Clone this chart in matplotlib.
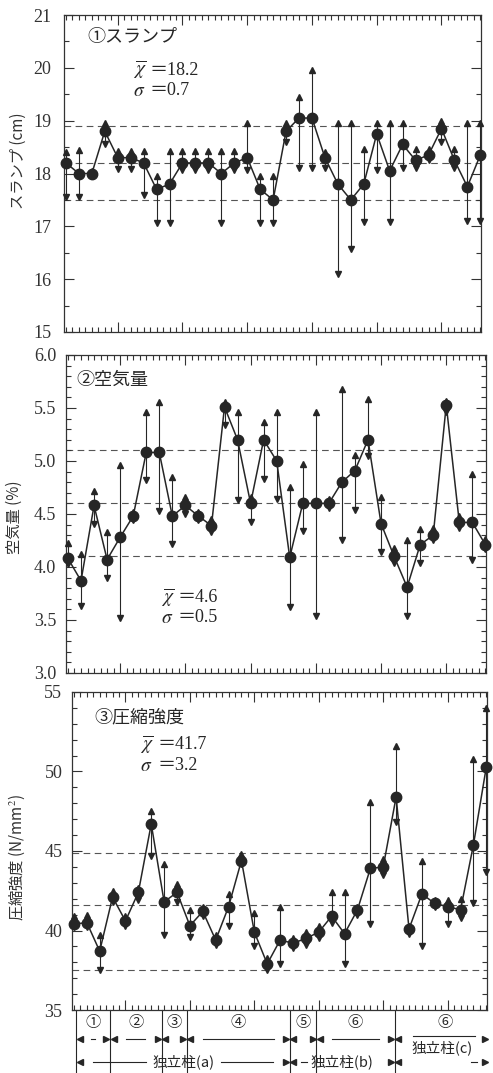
import numpy as np
import matplotlib.pyplot as plt
from matplotlib.ticker import MultipleLocator
from matplotlib.transforms import blended_transform_factory

plt.rcParams['mathtext.fontset'] = 'stix'

# 33 sampled trucks / columns
pos = np.arange(1, 34)

slump_mean = [18.2, 18.0, 18.0, 18.8, 18.3, 18.3, 18.2, 17.7, 17.8, 18.2, 18.2,
              18.2, 18.0, 18.2, 18.3, 17.7, 17.5, 18.8, 19.05, 19.05, 18.3, 17.8,
              17.5, 17.8, 18.75, 18.05, 18.55, 18.25, 18.35, 18.85, 18.25, 17.75, 18.35]
slump_max = [18.4, 18.45, 18.05, 18.95, 18.43, 18.43, 18.43, 17.95, 18.43, 18.43, 18.43,
             18.43, 18.43, 18.43, 18.95, 17.95, 17.95, 18.96, 19.44, 19.96, 18.4, 18.96,
             18.96, 18.47, 18.96, 18.96, 18.96, 18.47, 18.47, 19.0, 18.47, 18.96, 18.96]
slump_min = [17.55, 17.55, 17.95, 18.55, 18.08, 18.08, 17.6, 17.06, 17.06, 18.07, 18.07,
             18.07, 17.06, 18.07, 18.07, 17.06, 17.06, 18.6, 18.1, 18.1, 18.1, 16.1,
             16.58, 17.08, 18.07, 17.08, 18.1, 18.1, 18.25, 18.6, 18.1, 17.1, 17.1]
slump_band = [17.5, 18.2, 18.9]

air_mean = [4.08, 3.87, 4.58, 4.07, 4.28, 4.48, 5.08, 5.08, 4.48, 4.58, 4.48,
            4.39, 5.51, 5.2, 4.6, 5.2, 5.0, 4.09, 4.6, 4.6, 4.6, 4.8,
            4.91, 5.2, 4.41, 4.1, 3.81, 4.21, 4.3, 5.53, 4.42, 4.42, 4.21]
air_max = [4.23, 4.12, 4.72, 4.33, 4.96, 4.52, 5.46, 5.56, 4.85, 4.66, 4.52,
           4.45, 5.56, 5.46, 4.66, 5.37, 5.46, 4.75, 4.97, 5.46, 4.64, 5.68,
           5.06, 5.58, 4.66, 4.18, 4.25, 4.36, 4.37, 5.57, 4.48, 4.88, 4.26]
air_min = [4.03, 3.63, 4.41, 3.9, 3.52, 4.44, 4.82, 4.53, 4.22, 4.5, 4.44,
           4.33, 5.34, 4.63, 4.42, 4.83, 4.64, 3.62, 4.34, 3.54, 4.56, 4.25,
           4.54, 5.05, 4.14, 4.04, 3.54, 4.04, 4.25, 5.46, 4.37, 4.07, 4.17]
air_band = [4.1, 4.6, 5.1]

strength_mean = [40.4, 40.5, 38.7, 42.1, 40.6, 42.4, 46.7, 41.8, 42.4, 40.3, 41.2,
                 39.4, 41.5, 44.4, 39.9, 37.9, 39.4, 39.2, 39.5, 39.9, 40.9, 39.8,
                 41.3, 43.9, 44.0, 48.4, 40.1, 42.3, 41.7, 41.5, 41.3, 45.4, 50.3]
strength_max = [40.9, 41.0, 39.7, 42.5, 40.9, 42.7, 47.5, 44.2, 42.9, 41.3, 41.5,
                39.7, 42.3, 44.8, 41.1, 38.3, 41.5, 39.5, 39.9, 40.3, 42.4, 42.4,
                41.5, 48.1, 44.5, 51.6, 40.3, 44.4, 41.9, 41.9, 42.0, 50.8, 54.0]
strength_min = [40.2, 40.2, 37.5, 41.8, 40.3, 41.9, 44.7, 39.7, 41.8, 39.6, 40.9,
                39.1, 40.3, 44.2, 39.0, 37.5, 37.9, 38.9, 39.1, 39.5, 40.5, 37.9,
                41.0, 40.4, 43.5, 46.8, 39.8, 39.0, 41.5, 40.4, 40.8, 41.7, 43.7]
strength_band = [37.5, 41.6, 44.9]

# column groups under the bottom panel
group_names = ['①', '②', '③', '④', '⑤', '⑥', '⑥']
group_edges = [1.2, 3.8, 7.8, 9.75, 17.75, 19.8, 25.9, 33.2]
column_names = ['独立柱(a)', '独立柱(b)', '独立柱(c)']
column_edges = [1.2, 17.75, 25.9, 33.2]

serif = ['Liberation Serif', 'Noto Sans CJK JP']
cjk = ['Noto Sans CJK JP', 'DejaVu Sans']
ink = '#262626'

fig = plt.figure(figsize=(4.93, 10.73), dpi=100)
ax1 = fig.add_axes([0.1298, 0.6906, 0.8458, 0.2954])
ax2 = fig.add_axes([0.1339, 0.3728, 0.852, 0.2964])
ax3 = fig.add_axes([0.146, 0.0587, 0.8418, 0.2964])


def panel(ax, mean, hi, lo, band, ylim, major, minor, title, xbar, sig,
          ylabel, tpos, spos, lpos, pad):
    ax.set_xlim(0.85, 33.05)
    ax.set_ylim(*ylim)
    for b in band:
        ax.axhline(b, color='#555555', lw=0.8, dashes=(6, 4), zorder=1)
    ax.vlines(pos, lo, hi, color=ink, lw=0.8, zorder=2)
    ax.plot(pos, hi, '^', ms=4.5, color=ink, clip_on=False, zorder=3)
    ax.plot(pos, lo, 'v', ms=4.5, color=ink, clip_on=False, zorder=3)
    ax.plot(pos, mean, '-o', ms=7.5, lw=1.1, color=ink, clip_on=False, zorder=5)

    ax.xaxis.set_major_locator(MultipleLocator(5))
    ax.xaxis.set_minor_locator(MultipleLocator(0.5))
    ax.yaxis.set_major_locator(MultipleLocator(major))
    ax.yaxis.set_minor_locator(MultipleLocator(minor))
    ax.tick_params(which='both', direction='in', top=True, right=True,
                   labelbottom=False, color='#333333')
    ax.tick_params(which='major', length=7, width=0.8, labelsize=13, pad=pad)
    ax.tick_params(which='minor', length=3.5, width=0.8)
    for t in ax.get_yticklabels():
        t.set_family(serif)
        t.set_color('#333333')
    for s in ax.spines.values():
        s.set_linewidth(0.9)
        s.set_color('#333333')

    ax.set_ylabel(ylabel, family=cjk, fontsize=11, color='#333333')
    ax.yaxis.set_label_coords(*lpos)

    ax.text(tpos[0], tpos[1], title, transform=ax.transAxes, family=cjk,
            fontsize=13, color=ink, va='center')
    ax.text(spos[0], spos[1], r'$\overline{\chi}$', transform=ax.transAxes,
            fontsize=14, color=ink, va='center')
    ax.annotate('＝' + xbar, xy=spos, xycoords='axes fraction',
                xytext=(12, 0), textcoords='offset points', family=serif,
                fontsize=13, color=ink, va='center')
    ax.text(spos[0], spos[1] - 0.064, r'$\sigma$', transform=ax.transAxes,
            fontsize=14, color=ink, va='center')
    ax.annotate('＝' + sig, xy=(spos[0], spos[1] - 0.064), xycoords='axes fraction',
                xytext=(12, 0), textcoords='offset points', family=serif,
                fontsize=13, color=ink, va='center')


panel(ax1, slump_mean, slump_max, slump_min, slump_band, (15, 21), 1, 0.5,
      '①スランプ', '18.2', '0.7', 'スランプ (cm)',
      (0.055, 0.93), (0.165, 0.826), (-0.089, 0.54), 9)
panel(ax2, air_mean, air_max, air_min, air_band, (3.0, 6.0), 0.5, 0.1,
      '②空気量', '4.6', '0.5', '空気量 (%)',
      (0.025, 0.921), (0.225, 0.237), (-0.102, 0.49), 7)
ax2.yaxis.set_major_formatter(plt.FormatStrFormatter('%.1f'))
panel(ax3, strength_mean, strength_max, strength_min, strength_band, (35, 55), 5, 1,
      '③圧縮強度', '41.7', '3.2', '圧縮強度 (N/mm$^2$)',
      (0.055, 0.92), (0.165, 0.834), (-0.108, 0.48), 7)

# group annotation below the bottom panel
tr = blended_transform_factory(ax3.transData, ax3.transAxes)
lk = dict(transform=tr, clip_on=False, color=ink, lw=0.8)
for e in group_edges[:-1]:
    ax3.plot([e, e], [0, -0.2], **lk)


def heads(a, b, y):
    ax3.plot([a + 0.28], [y], '<', ms=5, color=ink, transform=tr, clip_on=False)
    ax3.plot([b - 0.28], [y], '>', ms=5, color=ink, transform=tr, clip_on=False)


for i, name in enumerate(group_names):
    a, b = group_edges[i], group_edges[i + 1]
    c = (a + b) / 2
    if i == 6:
        c = 29.8
        ax3.plot([27.3, 32.1], [-0.083, -0.083], **lk)
    ax3.text(c, -0.04, name, transform=tr, ha='center', va='center',
             family=cjk, fontsize=11, color=ink)
    heads(a, b, -0.092)
    half = (b - a) / 2 - 1.25
    if 0 < half < 0.15:
        half = 0.15
    if half > 0 and i < 6:
        ax3.plot([c - half, c + half], [-0.092, -0.092], **lk)

ycol = [-0.163, -0.163, -0.118]
for i, name in enumerate(column_names):
    a, b = column_edges[i], column_edges[i + 1]
    c = (a + b) / 2
    heads(a, b, -0.163)
    if i == 0:
        ax3.plot([a + 1.3, c - 2.9], [-0.163, -0.163], **lk)
        ax3.plot([c + 2.9, b - 1.3], [-0.163, -0.163], **lk)
    elif i == 1:
        ax3.plot([a + 0.9, a + 1.3], [-0.163, -0.163], **lk)
    else:
        c = 29.6
        ax3.plot([b - 1.4, b - 0.9], [-0.163, -0.163], **lk)
    ax3.text(c, ycol[i], name, transform=tr, ha='center', va='center',
             family=cjk, fontsize=10.5, color=ink)

plt.savefig('out.png', dpi=100)
